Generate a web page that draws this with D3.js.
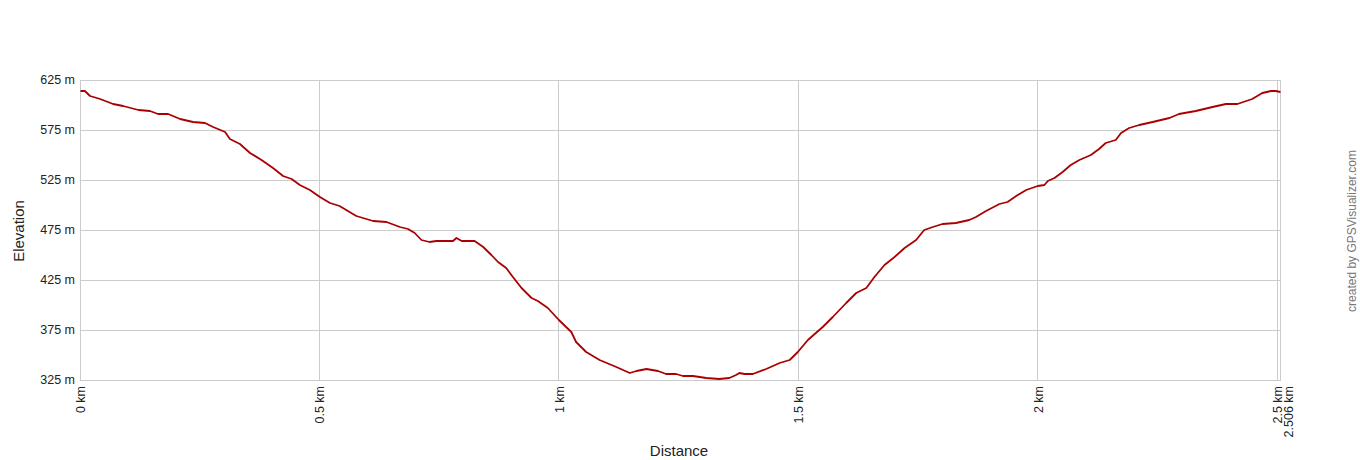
<!DOCTYPE html>
<html>
<head>
<meta charset="utf-8">
<script src="https://cdn.jsdelivr.net/npm/d3@7"></script>
<style>
  body { margin: 0; background: #fff; }
  svg text { font-family: "Liberation Sans", Arial, sans-serif; }
</style>
</head>
<body>
<svg id="chart" width="1360" height="460"></svg>
<script>
// profile: distance (km) and elevation (m)
const distKm = [0, 0.009, 0.020, 0.041, 0.068, 0.089, 0.121, 0.145, 0.162, 0.183, 0.208, 0.235, 0.260, 0.277, 0.302, 0.312, 0.333, 0.354, 0.378, 0.402, 0.423, 0.441, 0.458, 0.479, 0.500, 0.521, 0.541, 0.576, 0.611, 0.639, 0.667, 0.684, 0.698, 0.712, 0.729, 0.743, 0.778, 0.785, 0.796, 0.823, 0.841, 0.858, 0.872, 0.889, 0.903, 0.921, 0.942, 0.955, 0.976, 0.999, 1.025, 1.035, 1.056, 1.084, 1.119, 1.147, 1.161, 1.182, 1.206, 1.223, 1.244, 1.258, 1.279, 1.307, 1.334, 1.355, 1.369, 1.376, 1.387, 1.404, 1.432, 1.460, 1.481, 1.498, 1.519, 1.550, 1.571, 1.599, 1.620, 1.641, 1.658, 1.679, 1.700, 1.721, 1.745, 1.762, 1.780, 1.800, 1.828, 1.856, 1.870, 1.891, 1.919, 1.936, 1.954, 1.975, 1.999, 2.013, 2.020, 2.034, 2.051, 2.068, 2.086, 2.110, 2.127, 2.141, 2.162, 2.173, 2.190, 2.211, 2.239, 2.274, 2.294, 2.329, 2.364, 2.392, 2.416, 2.447, 2.468, 2.486, 2.496, 2.506];
const elevM = [614, 614, 609, 606, 601, 599, 595, 594, 591, 591, 586, 583, 582, 578, 573, 566, 561, 552, 545, 537, 529, 526, 520, 515, 508, 502, 499, 489, 484, 483, 478, 476, 472, 465, 463, 464, 464, 467, 464, 464, 458, 450, 443, 437, 428, 417, 407, 404, 397, 385, 373, 363, 353, 345, 338, 332, 334, 336, 334, 331, 331, 329, 329, 327, 326, 327, 330, 332, 331, 331, 336, 342, 345, 353, 365, 378, 388, 402, 412, 417, 428, 440, 448, 457, 465, 475, 478, 481, 482, 485, 488, 494, 501, 503, 509, 515, 519, 520, 524, 527, 533, 540, 545, 550, 556, 562, 565, 572, 577, 580, 583, 587, 591, 594, 598, 601, 601, 606, 612, 614, 614, 613];

const xTicks = [0, 0.5, 1, 1.5, 2, 2.5, 2.506];
const xTickLabels = ["0 km", "0.5 km", "1 km", "1.5 km", "2 km", "2.5 km", "2.506 km"];
const yTicks = [325, 375, 425, 475, 525, 575, 625];
const yTickLabels = ["325 m", "375 m", "425 m", "475 m", "525 m", "575 m", "625 m"];

const margin = { top: 80, right: 80, bottom: 80, left: 80.5 };
const W = 1360, H = 460;

const svg = d3.select("#chart");

let x = d3.scaleLinear()
  .domain([0, 2.506])
  .range([margin.left, W - margin.right + 0.5]);

let y = d3.scaleLinear()
  .domain([325, 625])
  .range([H - margin.bottom, margin.top]);

// horizontal grid + y labels
svg.append("g")
  .selectAll("line")
  .data(yTicks)
  .join("line")
  .attr("x1", x(0)).attr("x2", x(2.506))
  .attr("y1", d => y(d) + 0.5).attr("y2", d => y(d) + 0.5)
  .attr("stroke", "#cccccc").attr("stroke-width", 1);

svg.append("g")
  .selectAll("line")
  .data(xTicks)
  .join("line")
  .attr("x1", d => Math.round(x(d)) - 0.5).attr("x2", d => Math.round(x(d)) - 0.5)
  .attr("y1", y(625)).attr("y2", y(325) + 1)
  .attr("stroke", "#cccccc").attr("stroke-width", 1);

svg.append("g")
  .selectAll("text")
  .data(yTicks)
  .join("text")
  .attr("x", 75)
  .attr("y", d => y(d))
  .attr("dy", "0.35em")
  .attr("text-anchor", "end")
  .attr("font-size", 12.5)
  .attr("fill", "#222")
  .text((d, i) => yTickLabels[i]);

// x labels, rotated; last one nudged so it does not sit on top of 2.5 km
svg.append("g")
  .selectAll("text")
  .data(xTicks)
  .join("text")
  .attr("transform", (d, i) => {
    let px = x(d) + (i == xTicks.length - 1 ? 8 : 0);
    return `translate(${px},386) rotate(-90)`;
  })
  .attr("dy", "0.35em")
  .attr("text-anchor", "end")
  .attr("font-size", 12.5)
  .attr("fill", "#222")
  .text((d, i) => xTickLabels[i]);

// profile line
let line = d3.line()
  .x((d, i) => x(distKm[i]))
  .y(d => y(d));

svg.append("path")
  .datum(elevM)
  .attr("fill", "none")
  .attr("stroke", "#aa0000")
  .attr("stroke-width", 1.8)
  .attr("stroke-linejoin", "round")
  .attr("d", line);

// axis titles
svg.append("text")
  .attr("transform", "translate(19,231) rotate(-90)")
  .attr("dy", "0.35em")
  .attr("text-anchor", "middle")
  .attr("font-size", 15)
  .attr("fill", "#222")
  .text("Elevation");

svg.append("text")
  .attr("x", 679)
  .attr("y", 451)
  .attr("dy", "0.35em")
  .attr("text-anchor", "middle")
  .attr("font-size", 15)
  .attr("fill", "#222")
  .text("Distance");

svg.append("text")
  .attr("transform", "translate(1352,231) rotate(-90)")
  .attr("dy", "0.35em")
  .attr("text-anchor", "middle")
  .attr("font-size", 12)
  .attr("fill", "#777")
  .text("created by GPSVisualizer.com");
</script>
</body>
</html>
